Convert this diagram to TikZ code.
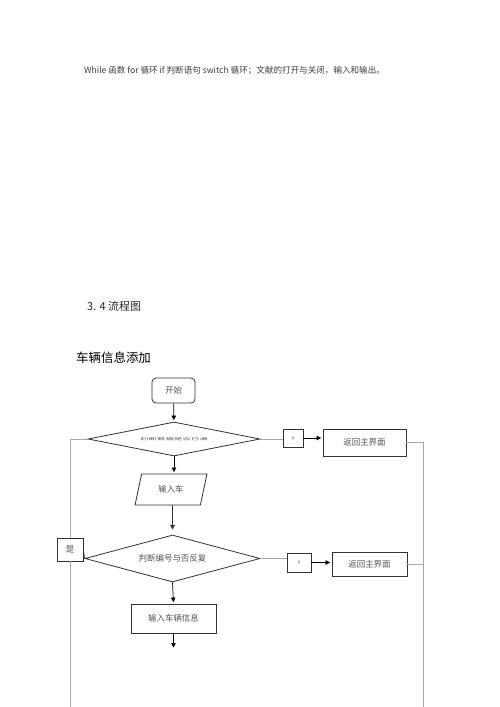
\documentclass[tikz,border=0pt]{standalone}
\usepackage{fontspec}
\setmainfont{Noto Sans CJK SC}
\usetikzlibrary{shapes.geometric,arrows.meta}
\definecolor{lgrey}{HTML}{A8A8A8}
\definecolor{tgrey}{HTML}{555555}
\definecolor{bdark}{HTML}{333333}
\begin{document}
\begin{tikzpicture}[x=1bp,y=-1bp,
  base/.style={draw=bdark, line width=0.8bp, inner sep=0pt, text=tgrey,
    font=\fontsize{8.5}{10}\selectfont},
  rbox/.style={base, rectangle},
  dbox/.style={base, diamond},
  pbox/.style={base, trapezium, trapezium left angle=70, trapezium right angle=110, trapezium stretches=true},
  tiny/.style={base, rectangle, font=\fontsize{3}{3}\selectfont},
  arr/.style={draw=black, line width=0.7bp, -{Triangle[length=4.5bp,width=4.5bp]}, shorten >=1.5bp},
  gline/.style={draw=lgrey, line width=0.8bp},
  dline/.style={draw=bdark, line width=0.7bp}]
\useasboundingbox[fill=white] (0,0) rectangle (500,707);

\node[anchor=west, font=\fontsize{8.6}{10}\selectfont, text=black!75, inner sep=0pt] (intro) at (84,71)
  {While 函数 for 循环 if 判断语句 switch 循环；文献的打开与关闭，输入和输出。};
\node[anchor=west, font=\fontsize{11}{13}\selectfont, text=black!85, inner sep=0pt] (sec) at (87,306) {3. 4 流程图};
\node[anchor=west, font=\fontsize{12.5}{14}\selectfont, text=black, inner sep=0pt] (sub) at (76,358) {车辆信息添加};

\node[rbox, rounded corners=4bp, minimum width=43bp, minimum height=25bp] (start) at (173.5,390.5) {开始};
\node[dbox, aspect=5, minimum width=172bp, minimum height=34bp] (d1) at (174,439)
  {\raisebox{-3bp}{\scalebox{1}[0.4]{判断数据是否已满}}};
\node[tiny, minimum width=20bp, minimum height=18bp] (no1) at (293,438) {否};
\node[rbox, minimum width=83bp, minimum height=27bp] (ret1) at (364.5,442.5) {返回主界面};
\node[pbox, minimum width=72bp, minimum height=31bp] (in1) at (171,489.5) {输入车};
\node[rbox, minimum width=26bp, minimum height=23bp] (yes) at (70,549.5) {是};
\node[dbox, aspect=3.7, minimum width=175bp, minimum height=47bp] (d2) at (172.5,558.5)
  {\raisebox{-3bp}{判断编号与否反复}};
\node[tiny, minimum width=24bp, minimum height=19bp] (no2) at (299,562.5) {否};
\node[rbox, minimum width=75bp, minimum height=24bp] (ret2) at (369.5,564) {\raisebox{-3bp}{返回主界面}};
\node[rbox, minimum width=85bp, minimum height=29bp] (in2) at (173.5,618.5) {输入车辆信息};
\coordinate (end) at (173.5,649);
\coordinate (rb) at (423,707);
\coordinate (lb) at (69,707);

\draw[arr] (start) -- (d1);
\draw[gline] (d1.east) -- (d1.east -| no1.west);
\draw[arr] (no1.east) -- (no1.east -| ret1.west);
\draw[gline] (ret1.east) -| (rb);
\draw[arr] (d1.south) -- (d1.south |- in1.north);
\draw[dline, -{Triangle[length=4.5bp,width=4.5bp]}, shorten >=5bp] (d2.north |- in1.south) -- (d2.north);
\draw[gline] (d1.west) -| (yes.north);
\draw[gline] (yes.south) -- (yes.south |- lb);
\draw[dline] (yes.east) -- (d2.west);
\draw[gline] (d2.east) -- (d2.east -| no2.west);
\draw[arr] (no2.east) -- (no2.east -| ret2.west);
\draw[gline] (ret2.east) -- (ret2.east -| rb);
\draw[arr] (d2.south) -- (in2.north);
\draw[arr] (in2.south) -- (end);
\end{tikzpicture}
\end{document}
